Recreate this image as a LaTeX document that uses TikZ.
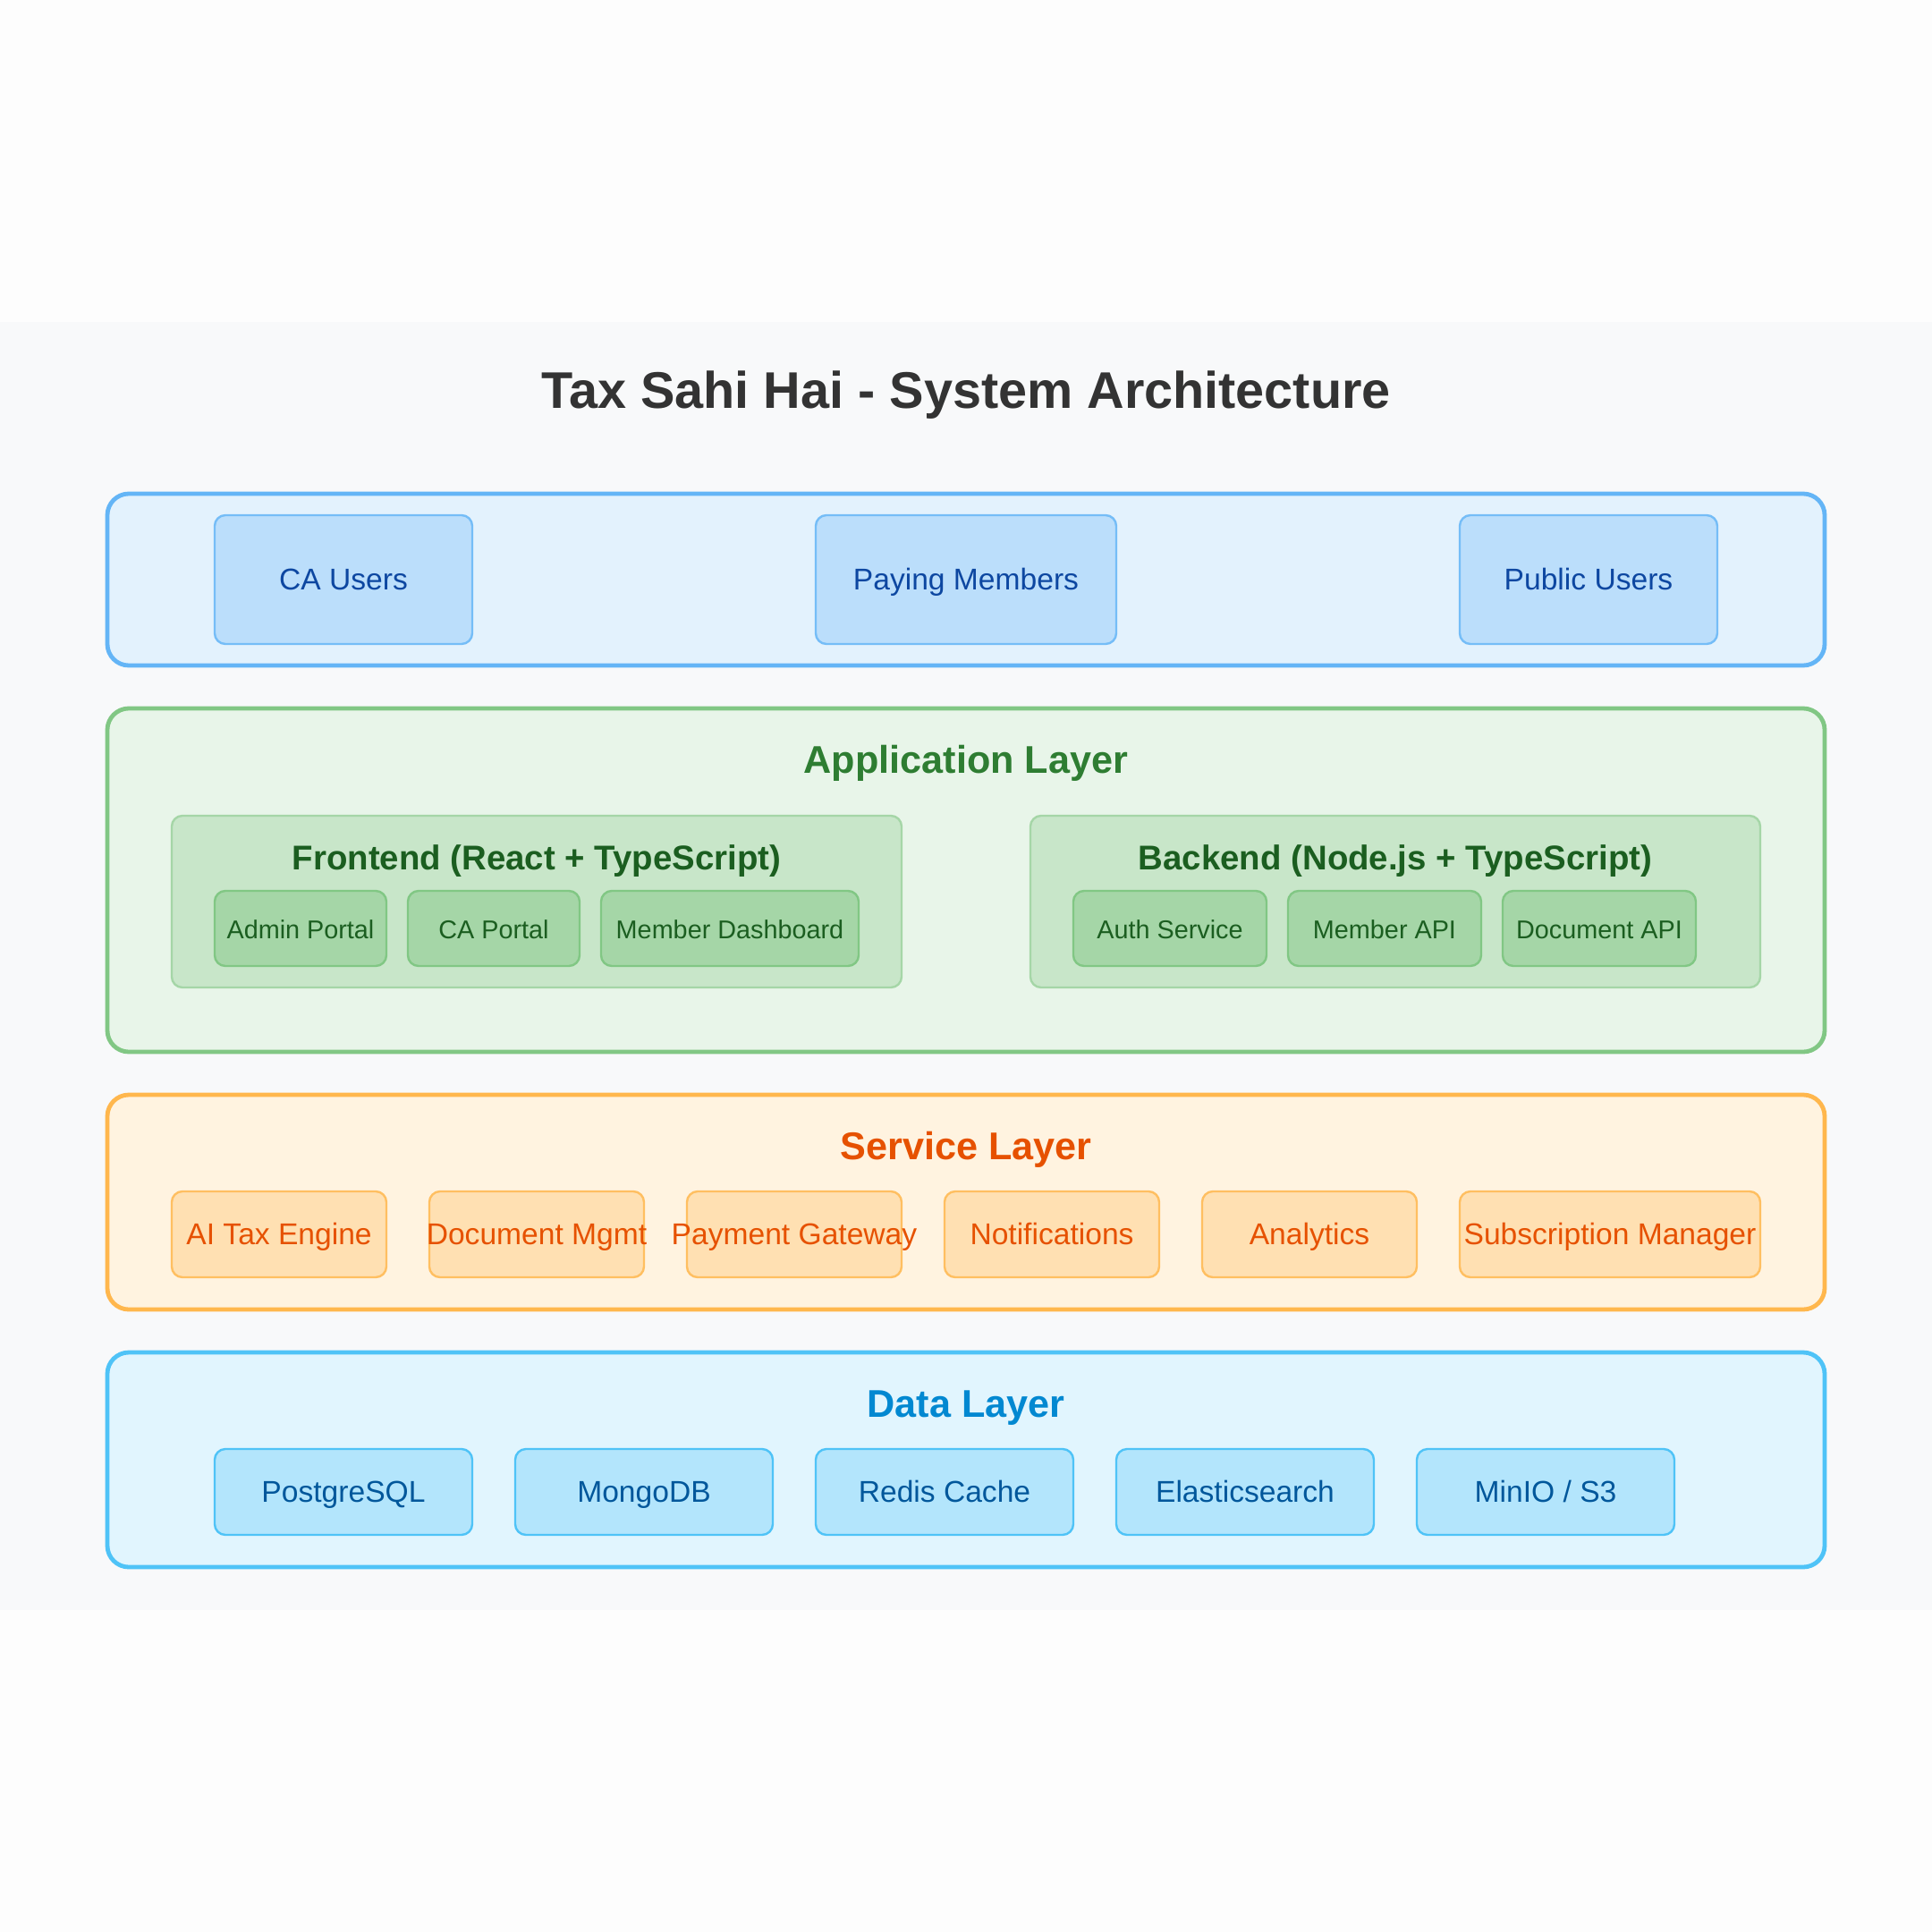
\documentclass[tikz,border=0pt]{standalone}
\usepackage{fontspec}
\setmainfont{Liberation Sans}

\definecolor{pagebg}{HTML}{FDFDFD}
\definecolor{panelbg}{HTML}{F8F9FA}
\definecolor{titlegray}{HTML}{333333}
% user layer
\definecolor{userfill}{HTML}{E3F2FD}
\definecolor{userline}{HTML}{64B5F6}
\definecolor{userbox}{HTML}{BBDEFB}
\definecolor{usertext}{HTML}{0D47A1}
% application layer
\definecolor{appfill}{HTML}{E8F5E9}
\definecolor{appline}{HTML}{81C784}
\definecolor{appgroup}{HTML}{C8E6C9}
\definecolor{appgroupline}{HTML}{A5D6A7}
\definecolor{appbox}{HTML}{A5D6A7}
\definecolor{apptitle}{HTML}{2E7D32}
\definecolor{apptext}{HTML}{1B5E20}
% service layer
\definecolor{svcfill}{HTML}{FFF3E0}
\definecolor{svcline}{HTML}{FFB74D}
\definecolor{svcbox}{HTML}{FFE0B2}
\definecolor{svctext}{HTML}{E65100}
% data layer
\definecolor{datafill}{HTML}{E1F5FE}
\definecolor{dataline}{HTML}{4FC3F7}
\definecolor{databox}{HTML}{B3E5FC}
\definecolor{datatitle}{HTML}{0288D1}
\definecolor{datatext}{HTML}{01579B}

\tikzset{
  layer/.style={line width=2pt, rounded corners=10pt},
  group/.style={line width=1pt, rounded corners=5pt},
  box/.style={rectangle, rounded corners=5pt, line width=1pt, inner sep=0pt,
    text height=0.95em, text depth=0pt, font=\fontsize{14}{16}\selectfont},
  userbox/.style={box, fill=userbox, draw=userline!80!userbox, text=usertext,
    minimum width=#1, minimum height=60pt},
  appbox/.style={box, fill=appbox, draw=appline, text=apptext,
    font=\fontsize{12}{14}\selectfont, minimum width=#1, minimum height=35pt},
  svcbox/.style={box, fill=svcbox, draw=svcline!80!svcbox, text=svctext,
    minimum width=#1, minimum height=40pt},
  databox/.style={box, fill=databox, draw=dataline, text=datatext,
    minimum width=#1, minimum height=40pt},
  layertitle/.style={anchor=base, inner sep=0pt, font=\bfseries\fontsize{18}{20}\selectfont},
  grouptitle/.style={anchor=base, inner sep=0pt, text=apptext, font=\bfseries\fontsize{16}{18}\selectfont}
}

\begin{document}
\begin{tikzpicture}[x=1pt, y=-1pt]
\fill[pagebg] (0,-150) rectangle (900,750);
\useasboundingbox (0,-150) rectangle (900,750);
\fill[panelbg] (0,0) rectangle (900,600);

\node[anchor=base, inner sep=0pt, text=titlegray, font=\bfseries\fontsize{24}{28}\selectfont]
  (title) at (450,40) {Tax Sahi Hai - System Architecture};

% users
\filldraw[layer, fill=userfill, draw=userline] (50,80) rectangle (850,160);
\node[userbox=120pt] (causers) at (160,120) {CA Users};
\node[userbox=140pt] (paying) at (450,120) {Paying Members};
\node[userbox=120pt] (public) at (740,120) {Public Users};

% application layer
\filldraw[layer, fill=appfill, draw=appline] (50,180) rectangle (850,340);
\node[layertitle, text=apptitle] (apptitle) at (450,210) {Application Layer};

\filldraw[group, fill=appgroup, draw=appgroupline] (80,230) rectangle (420,310);
\node[grouptitle] (fetitle) at (250,255) {Frontend (React + TypeScript)};
\node[appbox=80pt] (admin) at (140,282.5) {Admin Portal};
\node[appbox=80pt] (caportal) at (230,282.5) {CA Portal};
\node[appbox=120pt] (dashboard) at (340,282.5) {Member Dashboard};

\filldraw[group, fill=appgroup, draw=appgroupline] (480,230) rectangle (820,310);
\node[grouptitle] (betitle) at (650,255) {Backend (Node.js + TypeScript)};
\node[appbox=90pt] (auth) at (545,282.5) {Auth Service};
\node[appbox=90pt] (memberapi) at (645,282.5) {Member API};
\node[appbox=90pt] (docapi) at (745,282.5) {Document API};

% service layer
\filldraw[layer, fill=svcfill, draw=svcline] (50,360) rectangle (850,460);
\node[layertitle, text=svctext] (svctitle) at (450,390) {Service Layer};
\node[svcbox=100pt] (aitax) at (130,425) {\makebox[0pt]{AI Tax Engine}};
\node[svcbox=100pt] (docmgmt) at (250,425) {\makebox[0pt]{Document Mgmt}};
\node[svcbox=100pt] (payment) at (370,425) {\makebox[0pt]{Payment Gateway}};
\node[svcbox=100pt] (notify) at (490,425) {\makebox[0pt]{Notifications}};
\node[svcbox=100pt] (analytics) at (610,425) {\makebox[0pt]{Analytics}};
\node[svcbox=140pt] (subs) at (750,425) {\makebox[0pt]{Subscription Manager}};

% data layer
\filldraw[layer, fill=datafill, draw=dataline] (50,480) rectangle (850,580);
\node[layertitle, text=datatitle] (datatitle) at (450,510) {Data Layer};
\node[databox=120pt] (postgres) at (160,545) {PostgreSQL};
\node[databox=120pt] (mongo) at (300,545) {MongoDB};
\node[databox=120pt] (redis) at (440,545) {Redis Cache};
\node[databox=120pt] (elastic) at (580,545) {Elasticsearch};
\node[databox=120pt] (minio) at (720,545) {MinIO / S3};

\end{tikzpicture}
\end{document}
